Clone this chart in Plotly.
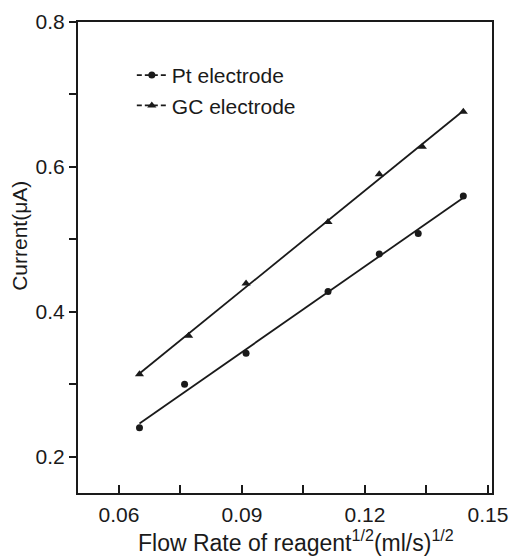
import numpy as np
import plotly.graph_objects as go

flow = [0.065, 0.076, 0.091, 0.111, 0.1235, 0.133, 0.144]
pt_current = [0.24, 0.30, 0.343, 0.428, 0.48, 0.508, 0.56]
flow_gc = [0.065, 0.077, 0.091, 0.111, 0.1235, 0.134, 0.144]
gc_current = [0.314, 0.367, 0.439, 0.524, 0.59, 0.628, 0.676]

series_names = ["Pt electrode", "GC electrode"]
x_ticks = [0.06, 0.09, 0.12, 0.15]
x_ticktext = ["0.06", "0.09", "0.12", "0.15"]
x_minor = [0.075, 0.105, 0.135]
x_title = "Flow Rate of reagent<sup>1/2</sup>(ml/s)<sup>1/2</sup>"
y_title = "Current(μA)"

FONT = "Liberation Sans, Arial, sans-serif"
INK = "#1a1a1a"

fig = go.Figure()

def add_series(x, y, name, symbol, msize):
    x = np.array(x); y = np.array(y)
    k, b = np.polyfit(x, y, 1)
    xl = np.array([x.min(), x.max()])
    fig.add_trace(go.Scatter(x=xl, y=k * xl + b, mode="lines",
                             line=dict(color=INK, width=1.8), showlegend=False,
                             hoverinfo="skip"))
    fig.add_trace(go.Scatter(x=x, y=y, mode="markers", name=name,
                             marker=dict(symbol=symbol, size=msize, color=INK),
                             showlegend=False))
    fig.add_trace(go.Scatter(x=[None], y=[None], mode="lines+markers", name=name,
                             line=dict(color=INK, width=1.8, dash="5px,3px"),
                             marker=dict(symbol=symbol, size=msize, color=INK)))

add_series(flow, pt_current, series_names[0], "circle", 7)
add_series(flow_gc, gc_current, series_names[1], "triangle-up", 8)

fig.update_layout(
    width=510, height=560,
    margin=dict(l=78, r=18, t=22, b=67, autoexpand=False),
    paper_bgcolor="white", plot_bgcolor="white",
    font=dict(family=FONT, color=INK, size=21),
    showlegend=True,
    legend=dict(x=0.13, y=0.93, xanchor="left", yanchor="top",
                bgcolor="rgba(0,0,0,0)", font=dict(size=21), itemwidth=30,
                tracegroupgap=0),
    xaxis=dict(range=[0.05, 0.151], autorange=False,
               tickvals=x_ticks, ticktext=x_ticktext,
               ticks="inside", ticklen=8, tickwidth=1.5, tickcolor=INK,
               ticklabelstandoff=2, ticklabeloverflow="allow", automargin=False,
               minor=dict(tickvals=x_minor, ticks="inside", ticklen=8,
                          tickwidth=1.5, tickcolor=INK),
               showline=True, linecolor=INK, linewidth=2, mirror=True,
               showgrid=False, zeroline=False),
    yaxis=dict(range=[0.15, 0.8], autorange=False, tick0=0.2, dtick=0.2, tickformat=".1f",
               ticks="outside", ticklen=7, tickwidth=1.5, tickcolor=INK,
               automargin=False,
               minor=dict(dtick=0.1, tick0=0.2, ticks="outside", ticklen=7,
                          tickwidth=1.5, tickcolor=INK),
               showline=True, linecolor=INK, linewidth=2, mirror=True,
               showgrid=False, zeroline=False),
    annotations=[
        dict(text=x_title, xref="paper", yref="paper", x=0.526, y=-0.102,
             xanchor="center", yanchor="middle", showarrow=False,
             font=dict(size=23, family=FONT, color=INK)),
        dict(text=y_title, xref="paper", yref="paper", x=-0.14, y=0.546,
             xanchor="center", yanchor="middle", showarrow=False, textangle=-90,
             font=dict(size=21, family=FONT, color=INK)),
    ],
)

fig.write_html("out.html")
